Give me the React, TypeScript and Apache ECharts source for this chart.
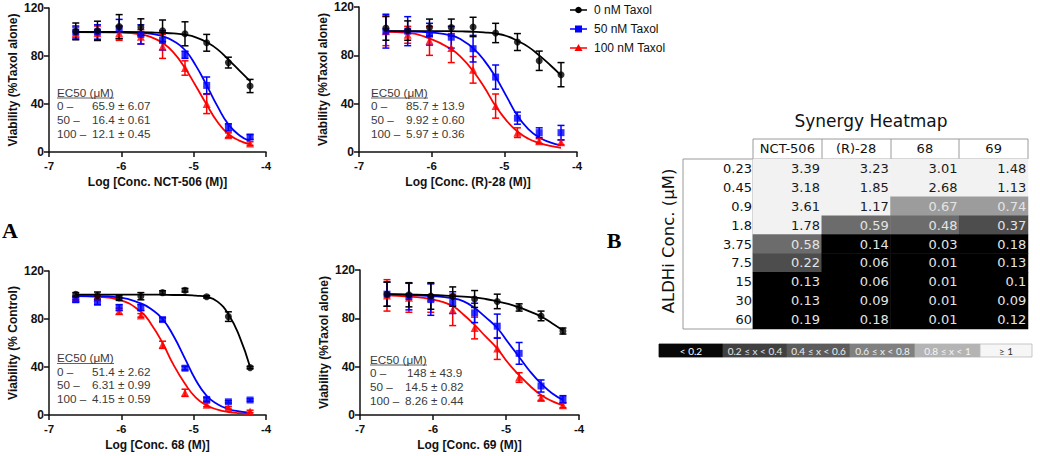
import React, { useEffect, useRef } from "react";
import * as echarts from "echarts";

// ---------- Data ----------
const logConc = [-6.63, -6.33, -6.03, -5.73, -5.43, -5.12, -4.82, -4.52, -4.22];
const curveX = [-6.63, -6.33, -6.03, -5.73, -5.58, -5.43, -5.28, -5.12, -4.97, -4.82, -4.67, -4.52, -4.37, -4.22];

const seriesNames = ["0 nM Taxol", "50 nM Taxol", "100 nM Taxol"];

// Panel 1: NCT-506
const p1Mean0 = [100.5, 101, 104.5, 104, 101, 98.5, 91, 74.5, 55];
const p1Err0 = [7, 8, 10, 7, 9, 10, 7, 4.5, 5.5];
const p1Mean50 = [100, 100, 102.5, 98, 93, 81, 55.5, 20.5, 12.5];
const p1Err50 = [5, 6, 8, 8, 8, 3, 7, 3, 2];
const p1Mean100 = [99, 99, 99, 96, 88, 70, 40, 14, 7];
const p1Err100 = [5, 6, 6, 6, 10, 6, 8, 2, 1.5];
const p1Fit0 = [100, 100, 100, 99.8, 99.6, 99.3, 98.8, 97.7, 95.6, 91.5, 85.5, 77, 68, 59];
const p1Fit50 = [100, 100, 100, 99.5, 98.5, 96.5, 92.5, 85, 72, 55.5, 38, 23, 14, 9];
const p1Fit100 = [100, 99.8, 99.5, 98, 95.5, 91, 83, 70, 55, 39.5, 25, 15, 9.5, 6.5];

// Panel 2: (R)-28
const p2Mean0 = [102.5, 100.5, 103, 103, 103.5, 98.5, 91, 75.5, 64];
const p2Err0 = [10, 8, 7, 7, 8, 8, 7, 8, 10];
const p2Mean50 = [100, 100, 97.5, 95, 85.5, 62, 28, 16, 16];
const p2Err50 = [14, 12, 9, 9, 11, 10, 5, 4, 6];
const p2Mean100 = [100, 97, 92, 86, 68, 38, 16, 9, 8];
const p2Err100 = [12, 7, 12, 12, 11, 10, 4, 2, 2];
const p2Fit0 = [100, 100, 100, 100, 99.8, 99.5, 99, 98, 96, 92, 87, 80, 72, 63.5];
const p2Fit50 = [100, 99.8, 99, 96.5, 92.5, 86, 76, 62, 46, 30, 19, 12, 8, 5.5];
const p2Fit100 = [99.5, 98.5, 94, 85, 77.5, 67, 54, 38, 26, 17, 11, 7.5, 5, 3.5];

// Panel 3: 68
const p3Mean0 = [100.5, 99.5, 97.5, 99, 102, 104, 98.5, 82, 39.5];
const p3Err0 = [1.5, 3, 2, 3, 1.5, 1.5, 1, 4, 1];
const p3Mean50 = [96, 94, 89.5, 89.5, 79.5, 39, 13, 11, 12.5];
const p3Err50 = [2, 2, 2.5, 2.5, 1.5, 1.5, 1.5, 1, 1];
const p3Mean100 = [97.5, 98, 86.5, 83, 58.5, 18.5, 8.5, 6, 3];
const p3Err100 = [1.5, 1.5, 2.5, 1.5, 3, 3, 1.5, 1, 1];
const p3Fit0 = [100.3, 100.3, 100.3, 100.3, 100.3, 100.2, 100, 100, 99.5, 98.5, 94.5, 84, 66, 40];
const p3Fit50 = [99, 99, 98, 93, 88, 80, 66, 47, 29, 16, 9, 5, 3, 2];
const p3Fit100 = [99, 98.5, 96, 86, 75, 60, 42, 26, 14.5, 8, 4.5, 2.5, 1.5, 1];

// Panel 4: 69
const p4Mean0 = [100, 99.5, 98.5, 98, 96, 94, 89, 82, 69.5];
const p4Err0 = [10, 10, 11, 8, 7, 6, 3, 4, 2.5];
const p4Mean50 = [100, 98, 95.5, 93, 84.5, 73.5, 51, 24, 13];
const p4Err50 = [10, 11, 13, 9, 8, 10, 9, 5, 3];
const p4Mean100 = [99, 97, 97, 87, 72, 55, 31, 14, 8];
const p4Err100 = [13, 12, 12, 13, 9, 9, 4, 2, 2];
const p4Fit0 = [100, 99.7, 99.3, 98.5, 98, 97.3, 96, 94, 92, 89, 85.5, 81.5, 76, 70];
const p4Fit50 = [100, 99.5, 98.5, 96.5, 94, 88.5, 81, 72, 60, 48, 36, 26, 18, 12.5];
const p4Fit100 = [99, 98, 96, 90, 83, 74.5, 65, 55, 43, 33, 24, 16.5, 11.5, 8];

const panelXNames = [
  "Log [Conc. NCT-506 (M)]",
  "Log [Conc. (R)-28 (M)]",
  "Log [Conc. 68 (M)]",
  "Log [Conc. 69 (M)]",
];
const panelYNames = [
  "Viability (%Taxol alone)",
  "Viability (%Taxol alone)",
  "Viability (% Control)",
  "Viability (%Taxol alone)",
];
const ec50Title = "EC50 (μM)";
const ec50Labels = ["0 –", "50 –", "100 –"];
const ec50Values = [
  ["65.9 ± 6.07", "16.4 ± 0.61", "12.1 ± 0.45"],
  ["85.7 ± 13.9", "9.92 ± 0.60", "5.97 ± 0.36"],
  ["51.4 ± 2.62", "6.31 ± 0.99", "4.15 ± 0.59"],
  ["148 ± 43.9", "14.5 ± 0.82", "8.26 ± 0.44"],
];

// Heatmap
const heatCols = ["NCT-506", "(R)-28", "68", "69"];
const heatRows = ["0.23", "0.45", "0.9", "1.8", "3.75", "7.5", "15", "30", "60"];
const heatNCT506 = [3.39, 3.18, 3.61, 1.78, 0.58, 0.22, 0.13, 0.13, 0.19];
const heatR28 = [3.23, 1.85, 1.17, 0.59, 0.14, 0.06, 0.06, 0.09, 0.18];
const heat68 = [3.01, 2.68, 0.67, 0.48, 0.03, 0.01, 0.01, 0.01, 0.01];
const heat69 = [1.48, 1.13, 0.74, 0.37, 0.18, 0.13, 0.1, 0.09, 0.12];
const heatLegendLabels = ["< 0.2", "0.2 ≤ x < 0.4", "0.4 ≤ x < 0.6", "0.6 ≤ x < 0.8", "0.8 ≤ x < 1", "≥ 1"];
const heatBreaks = [0.2, 0.4, 0.6, 0.8, 1];

// ---------- Styles ----------
const COLORS = ["#000000", "#0000ff", "#ff0000"];
const SYMBOLS = ["circle", "rect", "triangle"];
const SYMBOL_SIZES = [7, 7, 8];
const CELL_COLORS = ["#000000", "#4d4d4d", "#6c6c6c", "#9c9c9c", "#bcbcbc", "#f2f2f2"];
const LEGEND_COLORS = ["#080808", "#404040", "#5c5c5c", "#808080", "#b4b4b4", "#f6f6f6"];
const LEGEND_TEXT = ["#ffffff", "#e6e6e6", "#eeeeee", "#f2f2f2", "#f4f4f4", "#333333"];

const GRIDS = [
  { left: 49, top: 8, width: 217, height: 144 },
  { left: 359, top: 7, width: 218, height: 145 },
  { left: 49, top: 271, width: 217, height: 144 },
  { left: 360, top: 270, width: 219, height: 145 },
];
const EC50_POS = [
  { x: 57, y: 92, vx: [92, 92, 92] },
  { x: 371, y: 92, vx: [406, 406, 406] },
  { x: 57, y: 357.5, vx: [92, 92, 92] },
  { x: 370, y: 359, vx: [407, 405, 405] },
];

const panels = [
  { means: [p1Mean0, p1Mean50, p1Mean100], errs: [p1Err0, p1Err50, p1Err100], fits: [p1Fit0, p1Fit50, p1Fit100] },
  { means: [p2Mean0, p2Mean50, p2Mean100], errs: [p2Err0, p2Err50, p2Err100], fits: [p2Fit0, p2Fit50, p2Fit100] },
  { means: [p3Mean0, p3Mean50, p3Mean100], errs: [p3Err0, p3Err50, p3Err100], fits: [p3Fit0, p3Fit50, p3Fit100] },
  { means: [p4Mean0, p4Mean50, p4Mean100], errs: [p4Err0, p4Err50, p4Err100], fits: [p4Fit0, p4Fit50, p4Fit100] },
];

const AX_FONT = "Liberation Sans, Arial, sans-serif";
const HM_FONT = "DejaVu Sans, Verdana, sans-serif";
const KEY_FONT = "Lato, Open Sans, sans-serif";

function buildOption() {
  const grid: any[] = [];
  const xAxis: any[] = [];
  const yAxis: any[] = [];
  const series: any[] = [];
  const graphic: any[] = [];

  GRIDS.forEach((g, i) => {
    grid.push({ ...g, containLabel: false });
    xAxis.push({
      type: "value",
      gridIndex: i,
      min: -7,
      max: -4,
      interval: 1,
      name: panelXNames[i],
      nameLocation: "middle",
      nameGap: 24,
      nameTextStyle: { fontFamily: AX_FONT, fontWeight: "bold", fontSize: 12, color: "#111" },
      axisLine: { onZero: false, lineStyle: { color: "#111", width: 1.5 } },
      axisTick: { length: 5, lineStyle: { color: "#111", width: 1.5 } },
      axisLabel: { fontFamily: AX_FONT, fontWeight: "bold", fontSize: 11.5, color: "#111", margin: 8 },
      splitLine: { show: false },
    });
    yAxis.push({
      type: "value",
      gridIndex: i,
      min: 0,
      max: 120,
      interval: 40,
      name: panelYNames[i],
      nameLocation: "middle",
      nameGap: 30,
      nameRotate: 90,
      nameTextStyle: { fontFamily: AX_FONT, fontWeight: "bold", fontSize: 12, color: "#111" },
      axisLine: { show: true, lineStyle: { color: "#111", width: 1.5 } },
      axisTick: { show: true, length: 5, lineStyle: { color: "#111", width: 1.5 } },
      axisLabel: { fontFamily: AX_FONT, fontWeight: "bold", fontSize: 12, color: "#111", margin: 5 },
      splitLine: { show: false },
    });

    const p = panels[i];
    for (let k = 2; k >= 0; k--) {
      const color = COLORS[k];
      series.push({
        type: "line",
        name: seriesNames[k],
        xAxisIndex: i,
        yAxisIndex: i,
        data: curveX.map((x, j) => [x, p.fits[k][j]]),
        smooth: 0.5,
        showSymbol: false,
        symbol: "none",
        lineStyle: { color, width: 1.8 },
        z: 2,
        silent: true,
      });
      series.push({
        type: "custom",
        xAxisIndex: i,
        yAxisIndex: i,
        data: logConc.map((x, j) => [x, p.means[k][j] - p.errs[k][j], p.means[k][j] + p.errs[k][j]]),
        renderItem: (params: any, api: any) => {
          const lo = api.coord([api.value(0), api.value(1)]);
          const hi = api.coord([api.value(0), api.value(2)]);
          const w = 3.5;
          const st = { stroke: color, lineWidth: 1.5 };
          return {
            type: "group",
            children: [
              { type: "line", shape: { x1: lo[0], y1: lo[1], x2: hi[0], y2: hi[1] }, style: st },
              { type: "line", shape: { x1: lo[0] - w, y1: lo[1], x2: lo[0] + w, y2: lo[1] }, style: st },
              { type: "line", shape: { x1: hi[0] - w, y1: hi[1], x2: hi[0] + w, y2: hi[1] }, style: st },
            ],
          };
        },
        z: 3,
        silent: true,
      });
      series.push({
        type: "scatter",
        name: seriesNames[k],
        xAxisIndex: i,
        yAxisIndex: i,
        data: logConc.map((x, j) => [x, p.means[k][j]]),
        symbol: SYMBOLS[k],
        symbolSize: SYMBOL_SIZES[k],
        itemStyle: { color },
        z: 4,
        silent: true,
      });
    }

    // EC50 annotation
    const pos = EC50_POS[i];
    const ecStyle = { fontFamily: AX_FONT, fontSize: 11.7, lineHeight: 13, fill: "#3a3a3a", verticalAlign: "middle" };
    graphic.push({ type: "text", x: pos.x, y: pos.y, style: { text: ec50Title, ...ecStyle } });
    graphic.push({
      type: "line",
      shape: { x1: pos.x, y1: pos.y + 6, x2: pos.x + 57, y2: pos.y + 6 },
      style: { stroke: "#3a3a3a", lineWidth: 0.8 },
    });
    ec50Labels.forEach((lab, r) => {
      const yy = pos.y + 13.7 * (r + 1);
      graphic.push({ type: "text", x: pos.x, y: yy, style: { text: lab, ...ecStyle } });
      graphic.push({ type: "text", x: pos.vx[r], y: yy, style: { text: ec50Values[i][r], ...ecStyle } });
    });
  });

  // Legend (Taxol)
  const legendY = [10, 29, 48];
  seriesNames.forEach((name, k) => {
    const y = legendY[k];
    graphic.push({ type: "line", shape: { x1: 570, y1: y, x2: 587, y2: y }, style: { stroke: COLORS[k], lineWidth: 1.5 } });
    if (k === 0) graphic.push({ type: "circle", shape: { cx: 578.5, cy: y, r: 3.3 }, style: { fill: COLORS[k] } });
    if (k === 1) graphic.push({ type: "rect", shape: { x: 575, y: y - 3.5, width: 7, height: 7 }, style: { fill: COLORS[k] } });
    if (k === 2)
      graphic.push({ type: "polygon", shape: { points: [[578.5, y - 4], [582.5, y + 3], [574.5, y + 3]] }, style: { fill: COLORS[k] } });
    graphic.push({
      type: "text",
      x: 594,
      y,
      style: { text: name, fontFamily: AX_FONT, fontSize: 12, fill: "#111", verticalAlign: "middle" },
    });
  });

  // Panel letters
  graphic.push({ type: "text", x: 10, y: 230, style: { text: "A", fontFamily: "Liberation Serif, Times New Roman, serif", fontWeight: "bold", fontSize: 22, fill: "#000", align: "center", verticalAlign: "middle" } });
  graphic.push({ type: "text", x: 614, y: 240, style: { text: "B", fontFamily: "Liberation Serif, Times New Roman, serif", fontWeight: "bold", fontSize: 22, fill: "#000", align: "center", verticalAlign: "middle" } });

  // ---------- Heatmap ----------
  const hmGrid = grid.length;
  grid.push({ left: 753, top: 159, width: 275, height: 170, containLabel: false });
  xAxis.push({
    type: "category",
    gridIndex: hmGrid,
    data: heatCols,
    position: "top",
    axisLine: { show: false },
    axisTick: { show: false },
    axisLabel: { interval: 0, fontFamily: HM_FONT, fontSize: 13, color: "#111", margin: 4 },
    splitLine: { show: false },
  });
  yAxis.push({
    type: "category",
    gridIndex: hmGrid,
    data: heatRows,
    inverse: true,
    axisLine: { show: false },
    axisTick: { show: false },
    axisLabel: { interval: 0, fontFamily: HM_FONT, fontSize: 13, color: "#111", margin: 1 },
    splitLine: { show: false },
  });
  const cols = [heatNCT506, heatR28, heat68, heat69];
  const hmData: any[] = [];
  cols.forEach((col, c) => {
    col.forEach((v, r) => {
      hmData.push({ value: [c, r, v], label: { color: v >= 1 ? "#1a1a1a" : "#e4e4e4" } });
    });
  });
  const hmSeriesIndex = series.length;
  series.push({
    type: "heatmap",
    xAxisIndex: hmGrid,
    yAxisIndex: hmGrid,
    data: hmData,
    label: {
      show: true,
      position: "insideRight",
      distance: 2,
      fontFamily: HM_FONT,
      fontSize: 13,
      formatter: (p: any) => String(p.value[2]),
    },
    itemStyle: { borderWidth: 0 },
    emphasis: { disabled: true },
    silent: true,
  });

  const pieces: any[] = [];
  for (let i = 0; i < CELL_COLORS.length; i++) {
    const pc: any = { color: CELL_COLORS[i] };
    if (i > 0) pc.gte = heatBreaks[i - 1];
    if (i < heatBreaks.length) pc.lt = heatBreaks[i];
    pieces.push(pc);
  }

  // Heatmap frame & header borders
  const hdrX = [753, 822, 891, 959, 1028];
  graphic.push({ type: "rect", shape: { x: 753, y: 139, width: 275, height: 20 }, style: { fill: "none", stroke: "#9a9a9a", lineWidth: 1 } });
  for (let i = 1; i < hdrX.length - 1; i++) {
    graphic.push({ type: "line", shape: { x1: hdrX[i], y1: 139, x2: hdrX[i], y2: 159 }, style: { stroke: "#9a9a9a", lineWidth: 1 } });
  }
  graphic.push({ type: "rect", shape: { x: 683, y: 159, width: 70, height: 170 }, style: { fill: "none", stroke: "#9a9a9a", lineWidth: 1 } });
  graphic.push({ type: "text", x: 871, y: 121, style: { text: "Synergy Heatmap", fontFamily: HM_FONT, fontSize: 17, fill: "#111", align: "center", verticalAlign: "middle" } });
  graphic.push({ type: "text", x: 668, y: 241, rotation: Math.PI / 2, style: { text: "ALDHi Conc. (μM)", fontFamily: HM_FONT, fontSize: 16.5, fill: "#111", align: "center", verticalAlign: "middle" } });

  // Colour key bar
  const keyX = [659, 723, 787, 850, 915, 980, 1032];
  heatLegendLabels.forEach((lab, i) => {
    graphic.push({
      type: "rect",
      shape: { x: keyX[i], y: 344, width: keyX[i + 1] - keyX[i], height: 13 },
      style: { fill: LEGEND_COLORS[i], stroke: i === 5 ? "#bbbbbb" : LEGEND_COLORS[i], lineWidth: 0.8 },
    });
    graphic.push({
      type: "text",
      x: (keyX[i] + keyX[i + 1]) / 2,
      y: 350.5,
      style: { text: lab, fontFamily: KEY_FONT, fontSize: 10, lineHeight: 11, fill: LEGEND_TEXT[i], align: "center", verticalAlign: "middle" },
    });
  });

  return {
    animation: false,
    backgroundColor: "#ffffff",
    grid,
    xAxis,
    yAxis,
    series,
    graphic,
    visualMap: {
      type: "piecewise",
      show: false,
      dimension: 2,
      seriesIndex: hmSeriesIndex,
      pieces,
    },
  };
}

export default function App() {
  const ref = useRef<HTMLDivElement>(null);
  useEffect(() => {
    document.body.style.margin = "0";
    if (!ref.current) return;
    const chart = echarts.init(ref.current, null, { renderer: "svg" });
    chart.setOption(buildOption() as any);
    return () => chart.dispose();
  }, []);
  return <div ref={ref} style={{ width: 1040, height: 456 }} />;
}
